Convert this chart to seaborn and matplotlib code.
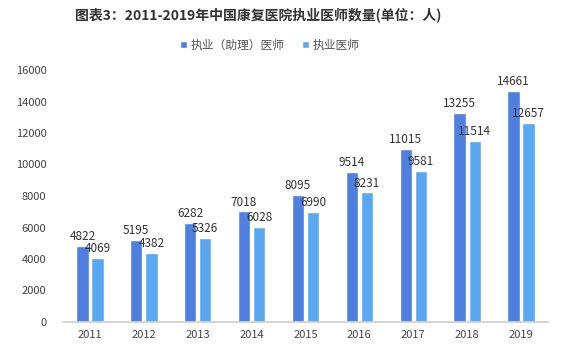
import matplotlib
matplotlib.use("Agg")
import matplotlib.pyplot as plt
import seaborn as sns
import pandas as pd

years = ["2011", "2012", "2013", "2014", "2015", "2016", "2017", "2018", "2019"]
assistant_doctors = [4822, 5195, 6282, 7018, 8095, 9514, 11015, 13255, 14661]
licensed_doctors = [4069, 4382, 5326, 6028, 6990, 8231, 9581, 11514, 12657]
series_names = ["执业（助理）医师", "执业医师"]
title = "图表3：2011-2019年中国康复医院执业医师数量(单位：人)"

sns.set_theme(style="white")
plt.rcParams['font.family'] = ['Noto Sans CJK SC', 'DejaVu Sans']

df = pd.DataFrame({
    "year": years * 2,
    "value": assistant_doctors + licensed_doctors,
    "series": [series_names[0]] * len(years) + [series_names[1]] * len(years),
})

fig = plt.figure(figsize=(5.64, 3.49), dpi=100)
ax = fig.add_axes([63 / 564, 1 - 322 / 349, (548 - 63) / 564, (322 - 70) / 349])
palette = {series_names[0]: "#4f80e0", series_names[1]: "#5aa8f2"}
sns.barplot(data=df, x="year", y="value", hue="series", palette=palette,
            saturation=1, width=0.56, gap=0.18, ax=ax, legend=True)

for cont in ax.containers:
    ax.bar_label(cont, fmt="%d", fontsize=8.5, color="#333333", padding=2)

ax.set_ylim(0, 16000)
ax.set_yticks(range(0, 16001, 2000))
ax.set_xlabel("")
ax.set_ylabel("")
for s in ["top", "right", "left"]:
    ax.spines[s].set_visible(False)
ax.spines["bottom"].set_color("#d0d0d0")
ax.tick_params(axis="both", length=0, labelsize=8, colors="#444444")
ax.tick_params(axis="y", pad=12)
ax.tick_params(axis="x", pad=6)

leg = fig.legend(*ax.get_legend_handles_labels(), loc="center",
                 bbox_to_anchor=(270 / 564, 1 - 45 / 349), ncol=2, frameon=False,
                 fontsize=8.5, handlelength=0.6, handleheight=0.6, handletextpad=0.3,
                 columnspacing=1.5)
ax.get_legend().remove()
for t in leg.get_texts():
    t.set_color("#555555")

fig.text(258 / 564, 1 - 15 / 349, title, ha="center", va="center", fontsize=10,
         fontweight="bold", color="#333333")

fig.savefig("out.png", dpi=100)
